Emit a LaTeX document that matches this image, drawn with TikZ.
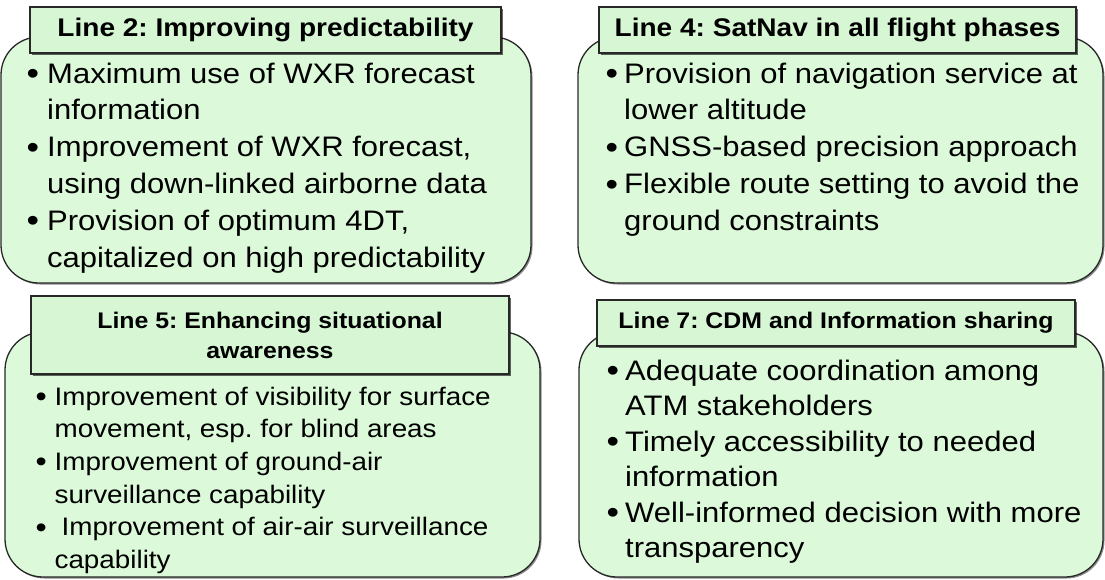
\documentclass[tikz,border=0pt]{standalone}
\usepackage{fontspec}
\setmainfont{Liberation Sans}[FakeStretch=1.1]
\usetikzlibrary{shadows}
\definecolor{boxgreen}{RGB}{220,250,218}
\definecolor{tabgreen}{RGB}{214,246,212}
\definecolor{edgegray}{RGB}{40,40,40}
\tikzset{
  panel/.style={draw=edgegray, line width=1.3pt, fill=boxgreen, rounded corners=38pt,
    inner sep=0pt, drop shadow={shadow xshift=1.5pt, shadow yshift=-1.5pt, fill=black, opacity=0.45}},
  tab/.style={draw=edgegray, line width=1.2pt, fill=tabgreen, inner sep=0pt, align=center,
    font=\bfseries, drop shadow={shadow xshift=2pt, shadow yshift=-2pt, fill=black, opacity=0.6}},
  body/.style={anchor=base west, inner sep=0pt},
}
\newcommand{\bul}[1]{\makebox[#1][l]{\hspace{-1.5pt}\raisebox{-0.06em}{\scalebox{1.15}{\textbullet}}}}
\begin{document}
\frenchspacing
\begin{tikzpicture}[x=1pt,y=-1pt]
\useasboundingbox (0,0) rectangle (1105,579);
% panels
\node[panel, minimum width=530pt, minimum height=246pt] (p1) at (266,160) {};
\node[panel, minimum width=525pt, minimum height=246pt] (p2) at (840.5,160) {};
\node[panel, minimum width=535pt, minimum height=245pt] (p3) at (272.5,454.5) {};
\node[panel, minimum width=524pt, minimum height=245pt] (p4) at (841,454.5) {};
% tabs
\node[tab, minimum width=471pt, minimum height=46pt, font=\bfseries\frenchspacing\fontsize{25.5}{30}\selectfont] (t1) at (265.5,30) {Line 2: Improving predictability};
\node[tab, minimum width=477pt, minimum height=46pt, font=\bfseries\frenchspacing\fontsize{25.5}{30}\selectfont] (t2) at (837.5,30) {Line 4: SatNav in all flight phases};
\node[tab, minimum width=478pt, minimum height=78pt, font=\bfseries\frenchspacing\fontsize{22.6}{30}\selectfont] (t3) at (270,335) {Line 5: Enhancing situational\\awareness};
\node[tab, minimum width=478pt, minimum height=46pt, font=\bfseries\frenchspacing\fontsize{22.6}{30}\selectfont] (t4) at (836,323) {Line 7: CDM and Information sharing};
% bodies
\node[body, font=\frenchspacing\fontsize{28.2}{36.8}\selectfont] (b1) at (28,83) {%
\begin{tabular}[t]{@{}l@{}l@{}}
\bul{19pt} & Maximum use of WXR forecast\\
 & information\\
\bul{19pt} & Improvement of WXR forecast,\\
 & using down-linked airborne data\\
\bul{19pt} & Provision of optimum 4DT,\\
 & capitalized on high predictability
\end{tabular}};
\node[body, font=\frenchspacing\fontsize{28.2}{36.8}\selectfont] (b2) at (607,83) {%
\begin{tabular}[t]{@{}l@{}l@{}}
\bul{17pt} & Provision of navigation service at\\
 & lower altitude\\
\bul{17pt} & GNSS-based precision approach\\
\bul{17pt} & Flexible route setting to avoid the\\
 & ground constraints
\end{tabular}};
\node[body, font=\frenchspacing\fontsize{25.3}{32.7}\selectfont] (b3) at (37,405) {%
\begin{tabular}[t]{@{}l@{}l@{}}
\bul{17.4pt} & Improvement of visibility for surface\\
 & movement, esp. for blind areas\\
\bul{17.4pt} & Improvement of ground-air\\
 & surveillance capability\\
\bul{17.4pt} & \hspace{7pt}Improvement of air-air surveillance\\
 & capability
\end{tabular}};
\node[body, font=\frenchspacing\fontsize{28.2}{35.5}\selectfont] (b4) at (608,380) {%
\begin{tabular}[t]{@{}l@{}l@{}}
\bul{17pt} & Adequate coordination among\\
 & ATM stakeholders\\
\bul{17pt} & Timely accessibility to needed\\
 & information\\
\bul{17pt} & Well-informed decision with more\\
 & transparency
\end{tabular}};
\end{tikzpicture}
\end{document}
